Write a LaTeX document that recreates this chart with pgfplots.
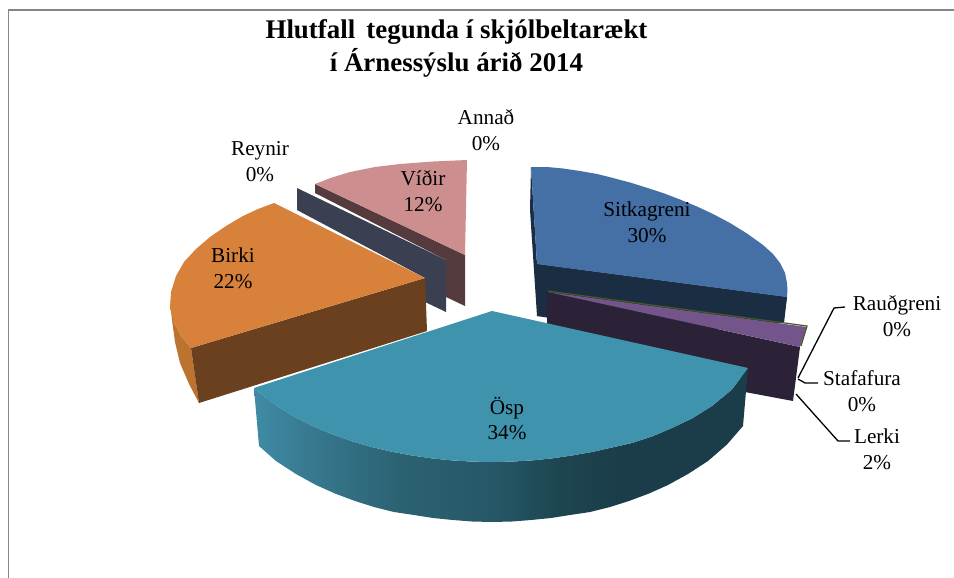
\documentclass[border=0pt]{standalone}
\usepackage{fontspec}
\setmainfont{Liberation Serif}
\usepackage{pgfplots}
\pgfplotsset{compat=1.18}
\definecolor{sitTop}{HTML}{4470A6}
\definecolor{sitSide}{HTML}{1A2D42}
\definecolor{lerTop}{HTML}{73558C}
\definecolor{lerSide}{HTML}{2C2238}
\definecolor{raud}{HTML}{4A5A20}
\definecolor{ospTop}{HTML}{4093AD}
\definecolor{birTop}{HTML}{D7813B}
\definecolor{birSide}{HTML}{6B401E}
\definecolor{birOut}{HTML}{BC7330}
\definecolor{reySide}{HTML}{3A4052}
\definecolor{vidTop}{HTML}{CC8E8E}
\definecolor{vidSide}{HTML}{553A3E}
\definecolor{frameC}{HTML}{868686}
\definecolor{os0}{HTML}{3F8BA5}
\definecolor{os1}{HTML}{37798F}
\definecolor{os2}{HTML}{2B6272}
\definecolor{os3}{HTML}{265867}
\definecolor{os4}{HTML}{1D4550}
\definecolor{os5}{HTML}{1B3D49}
\pgfdeclarehorizontalshading{ospside}{100bp}{
 color(0bp)=(os0);
 color(25bp)=(os0);
 color(30.7bp)=(os1);
 color(39.8bp)=(os2);
 color(48.9bp)=(os3);
 color(56bp)=(os4);
 color(62bp)=(os5);
 color(100bp)=(os5)}
\newcommand{\lab}[4]{\node[font=\fontsize{21.3}{26}\selectfont,align=center,inner sep=0pt,anchor=center] at (axis cs:#1,#2) {#3\\#4};}
\begin{document}
\begin{tikzpicture}
\begin{axis}[
  scale only axis, width=954bp, height=578bp,
  xmin=0, xmax=954, ymin=0, ymax=578, y dir=reverse,
  hide axis, clip=true]
% page background
\addplot[draw=none, fill=white] coordinates {(0,0)(954,0)(954,578)(0,578)} -- cycle;
% frame
\addplot[frameC, line width=1.8bp] coordinates {(8.5,578)(8.5,10)(954,10)};
% Sitkagreni
\addplot[draw=none, fill=sitSide] coordinates {(531,167)(530,210)(537,316)(783,323)(787,297)(537,264)} -- cycle;
\addplot[draw=none, fill=sitSide] coordinates {(537,264)(787,297)(784,323)(660,335)(537,316)} -- cycle;
\addplot[draw=none, fill=sitTop] coordinates {(531,167)(547,167)(563,168.5)(580,171)(597,174)(613,178)(630,182.5)(646,187.5)(663,193)(680,199.5)(697,206.5)(713,214)(730,223)(747,233.5)(763,245)(773,254)(780,263)(785,273)(787,283)(787.5,290)(787,297)(537,264)} -- cycle;
% Rauðgreni / Stafafura sliver and Lerki
\addplot[draw=none, fill=lerSide] coordinates {(547,292)(800,347)(793,401)(745,392)(745,380)(547,330)} -- cycle;
\addplot[draw=none, fill=lerTop] coordinates {(548,292)(807,327)(800,347)} -- cycle;
\addplot[raud, line width=1.2bp] coordinates {(548,291)(807,326)(801,346)};
% Reynir
\addplot[draw=none, fill=reySide] coordinates {(297,188)(446,260)(446,312)(425,302)(425,278)(297,210)} -- cycle;
% Víðir
\addplot[draw=none, fill=vidSide] coordinates {(315,184)(465,255)(465,306)(446,297)(446,260)(315,193)} -- cycle;
\addplot[draw=none, fill=vidTop] coordinates {(315,184)(332,177.5)(350,172)(375,167)(400,164)(433,161.5)(467,160)(465,255)} -- cycle;
% Birki
\addplot[draw=none, fill=birOut] coordinates {(170,300)(174,323)(181,336)(191,348)(199,403)(189,384)(180,363)(175,342)(172,320)} -- cycle;
\addplot[draw=none, fill=birSide] coordinates {(425,278)(427,331)(199,403)(191,348)} -- cycle;
\addplot[draw=none, fill=birTop] coordinates {(425,278)(274,203)(258,209)(243,216)(226,226)(210,237)(196,249)(184,262)(176,276)(171,292)(170,308)(174,323)(181,336)(191,348)} -- cycle;
% Ösp
\addplot[draw=none, shading=ospside] coordinates {(254,388)(272,402.7)(292,415.5)(312,425.8)(332,434.2)(352,441.3)(372,447.1)(392,451.8)(412,455.5)(432,458.4)(452,460.4)(472,461.6)(492,462)(512,461.6)(532,460.4)(552,458.4)(572,455.5)(592,452)(612,447.5)(632,443)(652,436.5)(672,428)(692,418.5)(712,406)(732,389.5)(748,368)
 (743,426)(727,444.5)(708,461)(688,474)(668,485)(649,493.5)(629,501)(610,507)(590,512)(570,515)(551,518)(531,520)(512,521.5)(492,522)(472,521.5)(453,520)(433,518)(414,515)(394,512)(374,507)(355,501)(335,493.5)(316,485)(296,474)(276,461)(259,446)} -- cycle;
\addplot[draw=none, fill=ospTop] coordinates {(492,311)(254,388)(272,402.7)(292,415.5)(312,425.8)(332,434.2)(352,441.3)(372,447.1)(392,451.8)(412,455.5)(432,458.4)(452,460.4)(472,461.6)(492,462)(512,461.6)(532,460.4)(552,458.4)(572,455.5)(592,452)(612,447.5)(632,443)(652,436.5)(672,428)(692,418.5)(712,406)(732,389.5)(748,368)} -- cycle;
% leader lines
\addplot[black, line width=1.3bp] coordinates {(845,307)(834,308)(798,378)};
\addplot[black, line width=1.3bp] coordinates {(818,383)(805,383)(798,379)};
\addplot[black, line width=1.3bp] coordinates {(850,441)(838,441)(796,394)};
% labels
\lab{647}{222}{Sitkagreni}{30\%}
\lab{507}{418.5}{Ösp}{34\%}
\lab{233}{268.5}{Birki}{22\%}
\lab{423}{191.5}{Víðir}{12\%}
\lab{260}{161.5}{Reynir}{0\%}
\lab{486}{130}{Annað}{0\%}
\lab{897}{316}{Rauðgreni}{0\%}
\lab{862}{391.5}{Stafafura}{0\%}
\lab{877}{449.5}{Lerki}{2\%}
\node[font=\fontsize{27}{33}\selectfont\bfseries,align=center,inner sep=0pt,anchor=center] at (axis cs:456.5,48) {Hlutfall\, tegunda í skjólbeltarækt\\í Árnessýslu árið 2014};
\end{axis}
\end{tikzpicture}
\end{document}
